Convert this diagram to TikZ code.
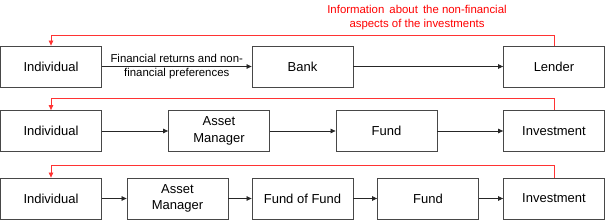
\documentclass[tikz,border=0pt]{standalone}
\usepackage{fontspec}
\setmainfont{Liberation Sans}
\usetikzlibrary{arrows.meta}
\begin{document}
\begin{tikzpicture}[x=1pt,y=-1pt,
  box/.style={draw=black!72,line width=0.8pt,minimum width=101pt,minimum height=41pt,inner sep=1pt,align=center,font=\fontsize{13}{16.5}\selectfont},
  flow/.style={draw=black!85,line width=0.7pt,-{Triangle[length=5pt,width=4.5pt]}},
  info/.style={draw=red!80,line width=0.8pt,-{Triangle[length=5pt,width=4.5pt]}},
  lbl/.style={font=\fontsize{11.4}{14}\selectfont,align=center,inner sep=0pt}]
\useasboundingbox (0,0) rectangle (605,224);
% row 1
\node[box] (i1) at (51,66.5) {Individual};
\node[box] (b1) at (302.5,66.5) {Bank};
\node[box] (l1) at (554,66.5) {Lender};
\draw[flow] (i1) -- (b1) node[midway,lbl] (t1) {Financial returns and non-\\financial preferences};
\draw[flow] (b1) -- (l1);
\draw[info] (l1.north) -- ++(0,-10) coordinate (c1) -| (i1.north);
\node[lbl,text=red] (t2) at (417,18) {Information\, about\, the non-financial\\aspects of the investments};
% row 2
\node[box] (i2) at (51,131) {Individual};
\node[box] (a2) at (219,131) {Asset\\Manager};
\node[box] (f2) at (386.5,131) {Fund};
\node[box] (v2) at (554,131) {Investment};
\draw[flow] (i2) -- (a2);
\draw[flow] (a2) -- (f2);
\draw[flow] (f2) -- (v2);
\draw[info] (v2.north) -- ++(0,-11.5) -| (i2.north);
% row 3
\node[box] (i3) at (51,198.5) {Individual};
\node[box] (a3) at (177.5,198.5) {Asset\\Manager};
\node[box] (ff3) at (302.5,198.5) {Fund of Fund};
\node[box] (f3) at (428,198.5) {Fund};
\node[box] (v3) at (554,198.5) {Investment};
\draw[flow] (i3) -- (a3);
\draw[flow] (a3) -- (ff3);
\draw[flow] (ff3) -- (f3);
\draw[flow] (f3) -- (v3);
\draw[info] (v3.north) -- ++(0,-12) -| (i3.north);
\end{tikzpicture}
\end{document}
